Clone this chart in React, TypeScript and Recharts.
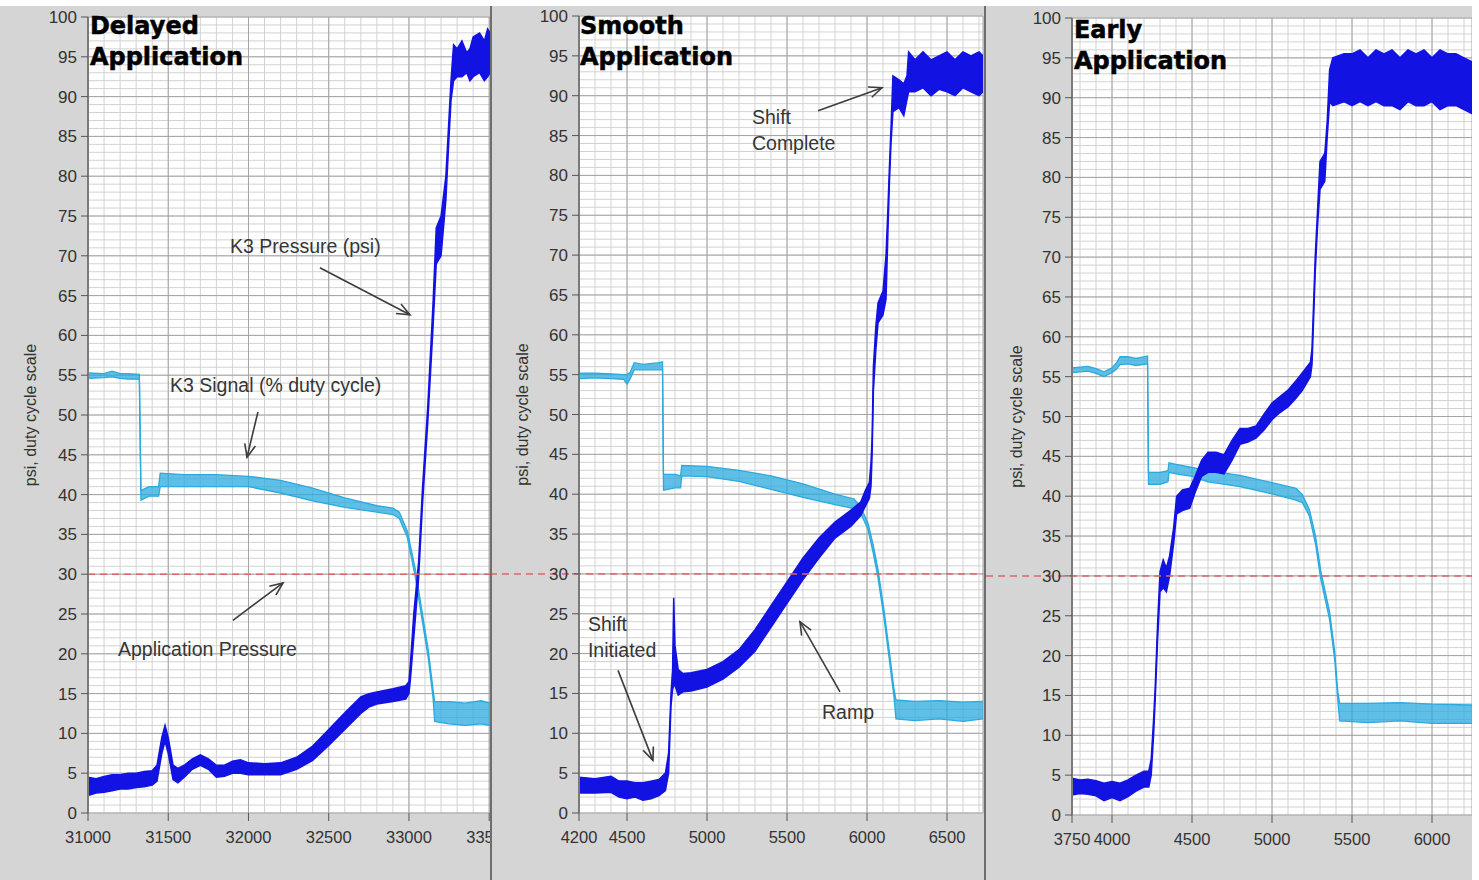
import React from 'react';
import { ComposedChart, Area, XAxis, YAxis, CartesianGrid, ReferenceLine, ReferenceDot } from 'recharts';

// [time, low, high] of each noisy trace
type Band = [number, number, number];

const delayedPressure: Band[] = [
  [31000, 2.2, 4.5], [31050, 2.5, 4.3], [31100, 2.6, 4.6], [31150, 2.8, 4.8], [31200, 3.0, 4.8],
  [31250, 3.0, 5.0], [31300, 3.2, 5.0], [31350, 3.3, 5.2], [31400, 3.5, 5.3], [31430, 4.0, 6.0],
  [31460, 7.5, 9.5], [31480, 9.0, 11.0], [31500, 7.5, 9.5], [31530, 4.2, 6.0], [31560, 3.8, 5.6],
  [31600, 4.5, 6.0], [31650, 5.5, 6.8], [31700, 6.0, 7.3], [31750, 5.5, 6.8], [31800, 4.5, 6.0],
  [31850, 4.6, 6.0], [31900, 5.0, 6.5], [31950, 5.0, 6.7], [32000, 4.8, 6.3], [32100, 4.8, 6.2],
  [32200, 4.8, 6.3], [32300, 5.5, 7.0], [32400, 6.6, 8.4], [32500, 8.5, 10.5], [32600, 10.5, 12.6],
  [32700, 12.5, 14.6], [32750, 13.3, 15.0], [32800, 13.7, 15.2], [32900, 14.0, 15.6], [32980, 14.3, 16.0],
  [33000, 15.0, 16.5], [33010, 17.0, 19.0], [33030, 22.0, 25.0], [33060, 29.5, 31.5], [33085, 39.0, 41.0],
  [33117, 49.0, 51.0], [33150, 61.0, 64.0], [33170, 69.0, 73.5], [33200, 70.0, 75.0], [33230, 77.0, 80.0],
  [33250, 85.0, 87.5], [33262, 89.5, 92.0], [33278, 92.0, 96.5], [33300, 92.5, 96.0], [33330, 92.5, 97.0],
  [33360, 93.0, 95.5], [33380, 92.0, 96.0], [33400, 92.5, 97.5], [33440, 93.0, 98.0], [33470, 92.0, 97.0],
  [33490, 92.5, 98.5], [33505, 93.0, 98.0],
];

const delayedSignal: Band[] = [
  [31000, 54.6, 55.3], [31100, 54.7, 55.2], [31150, 54.8, 55.5], [31200, 54.6, 55.2], [31250, 54.5, 55.2],
  [31320, 54.5, 55.1], [31330, 39.3, 40.5], [31380, 39.8, 41.0], [31440, 39.8, 41.0], [31450, 41.0, 42.7],
  [31600, 41.0, 42.5], [31800, 41.0, 42.5], [32000, 41.0, 42.3], [32200, 40.2, 41.8], [32400, 39.2, 40.8],
  [32600, 38.4, 39.6], [32800, 37.8, 38.6], [32900, 37.5, 38.3], [32940, 37.0, 37.8], [32990, 34.6, 35.4],
  [33040, 29.6, 30.6], [33080, 24.5, 25.5], [33120, 19.5, 20.5], [33150, 14.5, 15.5], [33160, 11.5, 14.0],
  [33250, 11.2, 14.0], [33350, 11.0, 13.8], [33450, 11.2, 14.1], [33505, 11.0, 13.8],
];

const smoothPressure: Band[] = [
  [4200, 2.5, 4.5], [4300, 2.5, 4.3], [4400, 2.6, 4.6], [4450, 2.0, 4.0], [4500, 1.8, 4.0],
  [4550, 2.0, 3.8], [4600, 1.6, 3.8], [4650, 1.8, 4.0], [4700, 2.2, 4.2], [4740, 2.8, 5.0],
  [4760, 5.0, 7.5], [4775, 13.5, 15.0], [4785, 15.5, 18.0], [4792, 16.0, 27.0], [4800, 16.0, 21.0],
  [4820, 14.8, 18.0], [4850, 15.2, 17.5], [4900, 15.3, 17.6], [5000, 15.8, 18.0], [5100, 16.8, 19.0],
  [5200, 18.3, 20.5], [5300, 20.3, 23.0], [5400, 23.3, 26.0], [5500, 26.3, 29.0], [5600, 29.3, 32.0],
  [5700, 32.0, 34.5], [5800, 34.5, 36.5], [5900, 36.0, 38.0], [5960, 37.3, 39.0], [5990, 38.5, 40.5],
  [6015, 39.5, 41.5], [6025, 41.0, 44.0], [6032, 45.0, 47.0], [6040, 53.0, 56.0], [6055, 58.0, 61.0],
  [6069, 61.5, 64.0], [6100, 62.5, 65.5], [6119, 64.5, 70.0], [6131, 73.0, 76.0], [6140, 79.0, 81.0],
  [6150, 84.0, 86.0], [6162, 88.0, 92.5], [6200, 88.5, 92.0], [6230, 87.5, 91.5], [6250, 89.5, 92.5],
  [6260, 90.5, 95.5], [6300, 90.5, 94.5], [6350, 91.0, 95.5], [6400, 90.0, 94.5], [6450, 90.8, 95.0],
  [6500, 90.5, 95.5], [6550, 90.0, 94.5], [6600, 91.0, 95.5], [6650, 90.5, 95.0], [6700, 90.0, 95.5],
  [6725, 90.5, 95.0],
];

const smoothSignal: Band[] = [
  [4200, 54.5, 55.2], [4300, 54.6, 55.2], [4400, 54.5, 55.1], [4480, 54.4, 55.0], [4500, 53.8, 55.0],
  [4520, 54.5, 55.3], [4545, 55.6, 56.5], [4600, 55.6, 56.3], [4700, 55.6, 56.5], [4722, 55.6, 56.6],
  [4728, 40.5, 42.5], [4800, 40.8, 42.5], [4835, 40.8, 42.3], [4842, 42.3, 43.6], [5000, 42.2, 43.5],
  [5200, 41.6, 43.0], [5400, 40.6, 42.3], [5600, 39.6, 41.3], [5800, 38.7, 40.0], [5920, 38.2, 39.4],
  [5960, 37.6, 38.4], [6006, 35.6, 36.4], [6040, 32.5, 33.5], [6069, 29.5, 30.5], [6106, 24.5, 25.5],
  [6138, 19.5, 20.5], [6169, 14.5, 15.5], [6181, 11.8, 14.2], [6300, 11.6, 14.0], [6450, 11.8, 14.1],
  [6600, 11.5, 13.9], [6725, 11.8, 14.0],
];

const earlyPressure: Band[] = [
  [3750, 2.5, 4.6], [3800, 2.7, 4.4], [3850, 2.6, 4.5], [3900, 2.4, 4.3], [3950, 1.8, 4.0],
  [4000, 2.2, 4.2], [4050, 1.8, 4.0], [4100, 2.3, 4.4], [4150, 3.0, 5.0], [4200, 3.5, 5.5],
  [4230, 3.5, 5.5], [4245, 5.0, 7.0], [4260, 10.0, 12.0], [4270, 14.5, 16.0], [4285, 22.0, 24.0],
  [4300, 28.0, 30.5], [4320, 28.5, 32.0], [4340, 28.0, 31.0], [4360, 30.0, 32.5], [4385, 34.0, 36.0],
  [4404, 37.8, 40.0], [4440, 38.2, 40.8], [4486, 38.5, 41.0], [4520, 40.5, 42.5], [4560, 42.5, 44.5],
  [4600, 43.0, 45.5], [4650, 43.0, 45.5], [4700, 42.8, 45.2], [4750, 44.5, 47.0], [4800, 46.5, 48.5],
  [4850, 46.8, 48.5], [4900, 47.3, 48.8], [4950, 48.3, 50.3], [5000, 49.6, 51.7], [5050, 50.5, 52.5],
  [5100, 51.2, 53.3], [5150, 52.3, 54.5], [5190, 53.3, 55.5], [5240, 55.0, 56.8], [5250, 56.5, 58.5],
  [5258, 61.0, 63.0], [5270, 68.0, 70.0], [5285, 74.0, 76.0], [5300, 78.5, 82.0], [5330, 79.5, 83.0],
  [5345, 85.0, 87.0], [5360, 89.5, 93.5], [5380, 89.0, 95.0], [5450, 89.5, 95.5], [5500, 89.0, 95.5],
  [5550, 89.5, 96.0], [5600, 89.0, 95.0], [5650, 89.5, 96.0], [5700, 89.0, 95.5], [5750, 89.0, 96.0],
  [5800, 88.5, 95.0], [5850, 89.5, 96.0], [5900, 89.0, 95.5], [5950, 89.0, 96.0], [6000, 89.5, 95.0],
  [6050, 88.5, 96.0], [6100, 89.0, 95.5], [6150, 89.0, 95.5], [6200, 88.5, 95.0], [6250, 88.0, 94.5],
];

const earlySignal: Band[] = [
  [3750, 55.5, 56.1], [3850, 55.7, 56.3], [3900, 55.4, 56.0], [3950, 55.0, 55.6], [4000, 55.5, 56.1],
  [4030, 56.0, 56.8], [4050, 56.5, 57.5], [4100, 56.6, 57.5], [4150, 56.4, 57.3], [4222, 56.6, 57.6],
  [4228, 41.5, 43.0], [4300, 41.5, 43.0], [4350, 41.8, 43.2], [4356, 43.0, 44.2], [4400, 42.8, 44.0],
  [4500, 42.5, 43.6], [4600, 41.8, 43.2], [4800, 41.2, 42.6], [5000, 40.3, 41.7], [5150, 39.5, 41.0],
  [5190, 39.2, 40.2], [5234, 37.5, 38.3], [5272, 34.0, 35.0], [5305, 29.6, 30.6], [5360, 24.5, 25.5],
  [5392, 19.5, 20.5], [5411, 14.5, 15.5], [5423, 11.8, 14.0], [5600, 11.6, 14.0], [5800, 11.8, 14.1],
  [6000, 11.5, 13.9], [6250, 11.5, 13.8],
];

const delayedTicks = [31000, 31500, 32000, 32500, 33000, 33500];
const smoothTicks = [4200, 4500, 5000, 5500, 6000, 6500];
const earlyTicks = [3750, 4000, 4500, 5000, 5500, 6000];
const yTicks = [0, 5, 10, 15, 20, 25, 30, 35, 40, 45, 50, 55, 60, 65, 70, 75, 80, 85, 90, 95, 100];
const applicationPressure = 30;

type Note = { x: number; y: number; lines: string[]; title?: boolean; gap?: number };
type Arrow = { from: [number, number]; to: [number, number] };

const delayedNotes: Note[] = [
  { x: 31012, y: 97.9, lines: ['Delayed', 'Application'], title: true },
  { x: 31885, y: 70.3, lines: ['K3 Pressure (psi)'] },
  { x: 31511, y: 52.9, lines: ['K3 Signal (% duty cycle)'] },
  { x: 31187, y: 19.7, lines: ['Application Pressure'] },
];
const delayedArrows: Arrow[] = [
  { from: [32445, 68.5], to: [33006, 62.6] },
  { from: [32059, 50.4], to: [31991, 44.7] },
  { from: [31903, 24.2], to: [32215, 28.9] },
];
const smoothNotes: Note[] = [
  { x: 4206, y: 97.7, lines: ['Smooth', 'Application'], title: true },
  { x: 5281, y: 86.4, lines: ['Shift', 'Complete'], gap: 26 },
  { x: 4256, y: 22.8, lines: ['Shift', 'Initiated'], gap: 26 },
  { x: 5719, y: 11.8, lines: ['Ramp'] },
];
const smoothArrows: Arrow[] = [
  { from: [5694, 88.1], to: [6094, 91.0] },
  { from: [4444, 17.9], to: [4662, 6.6] },
  { from: [5831, 15.2], to: [5581, 24.0] },
];
const earlyNotes: Note[] = [
  { x: 3762, y: 97.5, lines: ['Early', 'Application'], title: true },
];

const PRESSURE = '#1212e2';
const SIGNAL = '#2aaade';
const FONT = '"Liberation Sans", Arial, sans-serif';

const toRows = (pts: Band[]) => pts.map(([x, lo, hi]) => ({ x, band: [lo, hi] }));
const steps = (from: number, to: number, step: number) => {
  const out: number[] = [];
  for (let v = from; v <= to + 1e-6; v += step) out.push(v);
  return out;
};

const arrowShape = (p: any) => {
  const { x1, y1, x2, y2 } = p;
  const a = Math.atan2(y2 - y1, x2 - x1);
  const len = 14;
  const w = 0.4;
  const h1 = `${x2 - len * Math.cos(a - w)},${y2 - len * Math.sin(a - w)}`;
  const h2 = `${x2 - len * Math.cos(a + w)},${y2 - len * Math.sin(a + w)}`;
  return (
    <g>
      <line x1={x1} y1={y1} x2={x2} y2={y2} stroke="#3c3c3c" strokeWidth={1.6} />
      <polyline points={`${h1} ${x2},${y2} ${h2}`} fill="none" stroke="#3c3c3c" strokeWidth={1.6} />
    </g>
  );
};

const noteShape = (n: Note) => (p: any) => (
  <text
    x={p.cx}
    y={p.cy}
    fontFamily={n.title ? '"DejaVu Sans", sans-serif' : FONT}
    fontWeight={n.title ? 'bold' : 'normal'}
    fontSize={n.title ? 24 : 19.5}
    fill={n.title ? '#000' : '#363636'}
    stroke={n.title ? '#000' : 'none'}
    strokeWidth={n.title ? 0.5 : 0}
  >
    {n.lines.map((l, i) => (
      <tspan key={i} x={p.cx} dy={i === 0 ? 0 : n.gap ?? 31}>
        {l}
      </tspan>
    ))}
  </text>
);

interface PanelProps {
  left: number;
  width: number;
  mTop: number;
  mBottom: number;
  axisWidth: number;
  mRight: number;
  domain: [number, number];
  ticks: number[];
  pressure: Band[];
  signal: Band[];
  notes: Note[];
  arrows: Arrow[];
  refStart?: number;
}

const Panel = ({ left, width, mTop, mBottom, axisWidth, mRight, domain, ticks, pressure, signal, notes, arrows, refStart }: PanelProps) => {
  const minorX = steps(Math.ceil(domain[0] / 100) * 100, domain[1], 100);
  const majorX = [...ticks.filter((t) => t <= domain[1]), domain[1]];
  const minorY = steps(0, 100, 1);
  return (
    <div style={{ position: 'absolute', left, top: 6, width, height: 874, background: '#d5d5d5' }}>
      <ComposedChart width={width} height={874} margin={{ top: mTop, right: mRight, bottom: mBottom, left: 0 }}>
        <CartesianGrid fill="#ffffff" stroke="#d2d2d2" horizontalValues={minorY} verticalValues={minorX} />
        <CartesianGrid stroke="#a4a4a4" horizontalValues={yTicks} verticalValues={majorX} />
        <XAxis
          dataKey="x"
          type="number"
          domain={domain}
          ticks={ticks}
          interval={0}
          allowDataOverflow
          height={40}
          axisLine={false}
          tickLine={{ stroke: '#555' }}
          tickSize={8}
          tickMargin={10}
          tick={{ fill: '#333', fontSize: 16.5, fontFamily: FONT }}
        />
        <YAxis
          type="number"
          domain={[0, 100]}
          ticks={yTicks}
          interval={0}
          width={axisWidth}
          axisLine={{ stroke: '#7a7a7a', strokeWidth: 2 }}
          tickLine={{ stroke: '#555' }}
          tickSize={7}
          tickMargin={4}
          tick={{ fill: '#333', fontSize: 17, fontFamily: FONT }}
          label={({ viewBox }: any) => {
            const cx = (viewBox?.x ?? 0) + 30;
            const cy = (viewBox?.y ?? 0) + (viewBox?.height ?? 0) / 2;
            return (
              <text
                x={cx}
                y={cy}
                transform={`rotate(-90 ${cx} ${cy})`}
                textAnchor="middle"
                dominantBaseline="central"
                fontFamily={FONT}
                fontSize={16}
                fill="#333"
              >
                psi, duty cycle scale
              </text>
            );
          }}
        />
        {refStart === undefined ? (
          <ReferenceLine y={applicationPressure} stroke="#e06464" strokeWidth={1.5} strokeDasharray="7 5" />
        ) : (
          <ReferenceLine
            segment={[{ x: refStart, y: applicationPressure }, { x: domain[1], y: applicationPressure }]}
            ifOverflow="visible"
            stroke="#e06464"
            strokeWidth={1.5}
            strokeDasharray="7 5"
          />
        )}
        <Area
          data={toRows(signal)}
          dataKey="band"
          type="linear"
          stroke={SIGNAL}
          strokeWidth={1.3}
          fill={SIGNAL}
          fillOpacity={0.75}
          dot={false}
          activeDot={false}
          isAnimationActive={false}
        />
        <Area
          data={toRows(pressure)}
          dataKey="band"
          type="linear"
          stroke={PRESSURE}
          strokeWidth={1.5}
          fill={PRESSURE}
          fillOpacity={1}
          dot={false}
          activeDot={false}
          isAnimationActive={false}
        />
        {arrows.map((a, i) => (
          <ReferenceLine
            key={`a${i}`}
            segment={[{ x: a.from[0], y: a.from[1] }, { x: a.to[0], y: a.to[1] }]}
            ifOverflow="visible"
            shape={arrowShape}
          />
        ))}
        {notes.map((n, i) => (
          <ReferenceDot key={`n${i}`} x={n.x} y={n.y} r={0} ifOverflow="visible" shape={noteShape(n)} />
        ))}
      </ComposedChart>
    </div>
  );
};

export default function App() {
  return (
    <div style={{ position: 'absolute', left: 0, top: 0, width: 1479, height: 880, background: '#fff', overflow: 'hidden' }}>
      <Panel left={0} width={491} mTop={11} mBottom={27} axisWidth={88} mRight={1} domain={[31000, 33505]} ticks={delayedTicks}
        pressure={delayedPressure} signal={delayedSignal} notes={delayedNotes} arrows={delayedArrows} />
      <Panel left={492} width={492} mTop={10} mBottom={27} axisWidth={87} mRight={1} domain={[4200, 6725]} ticks={smoothTicks}
        pressure={smoothPressure} signal={smoothSignal} notes={smoothNotes} arrows={smoothArrows} refStart={3644} />
      <Panel left={986} width={486} mTop={12} mBottom={25} axisWidth={86} mRight={0} domain={[3750, 6250]} ticks={earlyTicks}
        pressure={earlyPressure} signal={earlySignal} notes={earlyNotes} arrows={[]} refStart={3213} />
      <div style={{ position: 'absolute', left: 490, top: 6, width: 2, height: 874, background: '#6e6e6e' }} />
      <div style={{ position: 'absolute', left: 984, top: 6, width: 2, height: 874, background: '#6e6e6e' }} />
    </div>
  );
}
